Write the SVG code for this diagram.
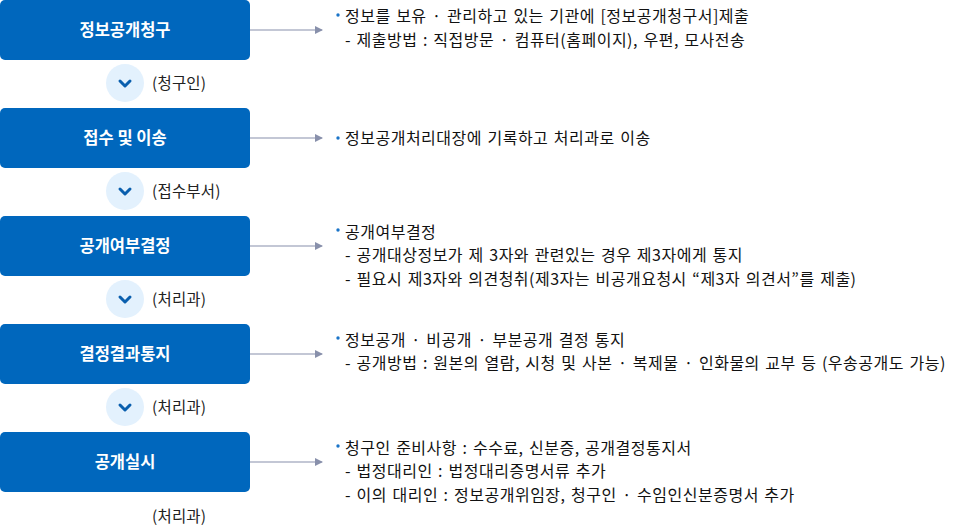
<svg xmlns="http://www.w3.org/2000/svg" width="955" height="526" viewBox="0 0 955 526">
<defs>
<style>
.box{fill:#0067bd}
.bl{font-family:"Noto Sans CJK KR","Noto Sans",sans-serif;font-size:16.5px;font-weight:bold;fill:#fff;text-anchor:middle}
.circ{fill:#e3f1fd}
.chev{fill:none;stroke:#0a5fae;stroke-width:3;stroke-linecap:round;stroke-linejoin:round}
.who{font-family:"Noto Sans CJK KR","Noto Sans",sans-serif;font-size:15.5px;letter-spacing:0.2px;fill:#222}
.desc{font-family:"Noto Sans CJK KR","Noto Sans",sans-serif;font-size:16px;letter-spacing:0.5px;word-spacing:1.4px;fill:#111}
.dot{fill:#1a74c8}
.conn{stroke:#8890ab;stroke-width:1.2;fill:none}
</style>
<marker id="ah" viewBox="0 0 8 8" refX="7" refY="4" markerWidth="8" markerHeight="8" markerUnits="userSpaceOnUse" orient="auto">
<path d="M0,0 L8,4 L0,8 Z" fill="#8890ab"/>
</marker>
</defs>
<rect width="955" height="526" fill="#fff"/>

<g id="step1">
<rect class="box" x="0" y="0" width="250" height="60" rx="5"/>
<text class="bl" x="125" y="36">정보공개청구</text>
</g>
<g id="step2">
<rect class="box" x="0" y="108" width="250" height="60" rx="5"/>
<text class="bl" x="125" y="144">접수 및 이송</text>
</g>
<g id="step3">
<rect class="box" x="0" y="216" width="250" height="60" rx="5"/>
<text class="bl" x="125" y="252">공개여부결정</text>
</g>
<g id="step4">
<rect class="box" x="0" y="324" width="250" height="60" rx="5"/>
<text class="bl" x="125" y="360">결정결과통지</text>
</g>
<g id="step5">
<rect class="box" x="0" y="432" width="250" height="60" rx="5"/>
<text class="bl" x="125" y="468">공개실시</text>
</g>

<g id="handoff1">
<circle class="circ" cx="125" cy="83" r="19"/>
<path class="chev" d="M120,81 L125,86 L130,81"/>
<text class="who" x="152" y="89">(청구인)</text>
</g>
<g id="handoff2">
<circle class="circ" cx="125" cy="191" r="19"/>
<path class="chev" d="M120,189 L125,194 L130,189"/>
<text class="who" x="152" y="197">(접수부서)</text>
</g>
<g id="handoff3">
<circle class="circ" cx="125" cy="299" r="19"/>
<path class="chev" d="M120,297 L125,302 L130,297"/>
<text class="who" x="152" y="305">(처리과)</text>
</g>
<g id="handoff4">
<circle class="circ" cx="125" cy="407" r="19"/>
<path class="chev" d="M120,405 L125,410 L130,405"/>
<text class="who" x="152" y="413">(처리과)</text>
</g>
<g id="handoff5">
<text class="who" x="152" y="522">(처리과)</text>
</g>

<g id="connectors">
<line class="conn" x1="250" y1="30" x2="322" y2="30" marker-end="url(#ah)"/>
<line class="conn" x1="250" y1="138" x2="322" y2="138" marker-end="url(#ah)"/>
<line class="conn" x1="250" y1="246" x2="322" y2="246" marker-end="url(#ah)"/>
<line class="conn" x1="250" y1="354" x2="322" y2="354" marker-end="url(#ah)"/>
<line class="conn" x1="250" y1="462" x2="322" y2="462" marker-end="url(#ah)"/>
</g>

<g id="desc1">
<circle class="dot" cx="338" cy="15" r="1.7"/>
<text class="desc" x="345" y="22">정보를 보유 · 관리하고 있는 기관에 [정보공개청구서]제출</text>
<text class="desc" x="345" y="46">- 제출방법 : 직접방문 · 컴퓨터(홈페이지), 우편, 모사전송</text>
</g>
<g id="desc2">
<circle class="dot" cx="338" cy="138" r="1.7"/>
<text class="desc" x="345" y="144">정보공개처리대장에 기록하고 처리과로 이송</text>
</g>
<g id="desc3">
<circle class="dot" cx="338" cy="230" r="1.7"/>
<text class="desc" x="345" y="238">공개여부결정</text>
<text class="desc" x="345" y="261">- 공개대상정보가 제 3자와 관련있는 경우 제3자에게 통지</text>
<text class="desc" x="345" y="285">- 필요시 제3자와 의견청취(제3자는 비공개요청시 “제3자 의견서”를 제출)</text>
</g>
<g id="desc4">
<circle class="dot" cx="338" cy="338" r="1.7"/>
<text class="desc" x="345" y="346">정보공개 · 비공개 · 부분공개 결정 통지</text>
<text class="desc" x="345" y="369">- 공개방법 : 원본의 열람, 시청 및 사본 · 복제물 · 인화물의 교부 등 (우송공개도 가능)</text>
</g>
<g id="desc5">
<circle class="dot" cx="338" cy="446" r="1.7"/>
<text class="desc" x="345" y="454">청구인 준비사항 : 수수료, 신분증, 공개결정통지서</text>
<text class="desc" x="345" y="477">- 법정대리인 : 법정대리증명서류 추가</text>
<text class="desc" x="345" y="501">- 이의 대리인 : 정보공개위임장, 청구인 · 수임인신분증명서 추가</text>
</g>
</svg>
